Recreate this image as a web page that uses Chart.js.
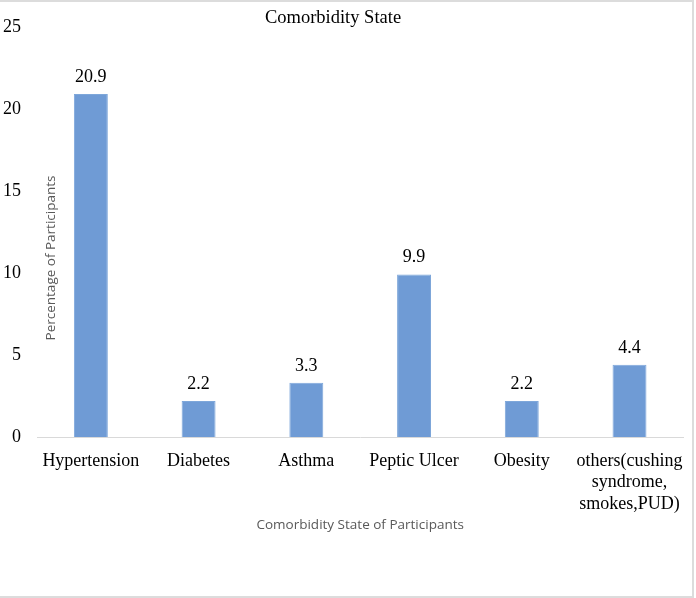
<!DOCTYPE html>
<html>
<head>
<meta charset="utf-8">
<script src="https://cdn.jsdelivr.net/npm/chart.js@4"></script>
<style>
    body { margin: 0; background: #fff; }
    #wrap { position: relative; width: 696px; height: 598px; overflow: hidden; }
    #frame {
        position: absolute; left: -3px; top: 0; width: 697px; height: 598px;
        border: 2px solid #dcdcdc; box-sizing: border-box; pointer-events: none;
    }
</style>
</head>
<body>
<div id="wrap">
    <canvas id="chart" width="696" height="598"></canvas>
    <div id="frame"></div>
</div>
<script>
// data
const categories = [
    "Hypertension", "Diabetes", "Asthma", "Peptic Ulcer", "Obesity",
    ["others(cushing", "syndrome,", "smokes,PUD)"]
];
const percentages = [20.9, 2.2, 3.3, 9.9, 2.2, 4.4];
const yTicks = [0, 5, 10, 15, 20, 25];

const serif = "'Liberation Serif', 'Times New Roman', serif";
const sans = "'Open Sans', 'Noto Sans', sans-serif";

// titles + value labels drawn on the canvas
const textLayer = {
    id: "textLayer",
    afterDatasetsDraw(chart) {
        const ctx = chart.ctx;
        const area = chart.chartArea;
        ctx.save();

        // main title
        ctx.fillStyle = "#000";
        ctx.font = "18.5px " + serif;
        ctx.textAlign = "center";
        ctx.textBaseline = "middle";
        ctx.fillText("Comorbidity State", 333, 18);

        // value labels
        ctx.font = "18px " + serif;
        const meta = chart.getDatasetMeta(0);
        meta.data.forEach((bar, i) => {
            ctx.fillText(String(percentages[i]), bar.x, bar.y - 17);
        });

        // y axis title
        ctx.fillStyle = "#595959";
        ctx.font = "13.5px " + sans;
        ctx.translate(area.left + 14, 258);
        ctx.rotate(-Math.PI / 2);
        ctx.fillText("Percentage of Participants", 0, 0);

        ctx.restore();
    }
};

new Chart(document.getElementById("chart"), {
    type: "bar",
    data: {
        labels: categories,
        datasets: [{
            data: percentages,
            backgroundColor: "#6f9bd5",
            borderColor: "#7ea7da",
            borderWidth: 1,
            barPercentage: 1,
            categoryPercentage: 0.315
        }]
    },
    options: {
        responsive: false,
        animation: false,
        layout: { padding: { left: 0, right: 6, top: 25, bottom: 0 } },
        plugins: {
            legend: { display: false },
            tooltip: { enabled: false },
            title: { display: false }
        },
        scales: {
            x: {
                grid: { display: false, drawTicks: false },
                border: { display: true, color: "#d9d9d9", width: 1 },
                ticks: {
                    color: "#000",
                    padding: 13,
                    maxRotation: 0,
                    autoSkip: false,
                    font: { family: serif, size: 18, lineHeight: 1.2 }
                },
                title: {
                    display: true,
                    text: "Comorbidity State of Participants",
                    color: "#595959",
                    font: { family: sans, size: 13.5 },
                    padding: { top: 0, bottom: 65 }
                },
                afterFit(scale) { scale.height = 161; }
            },
            y: {
                min: 0,
                max: 25,
                grid: { display: false, drawTicks: false },
                border: { display: false },
                afterBuildTicks(scale) {
                    scale.ticks = yTicks.map(v => ({ value: v }));
                },
                ticks: {
                    color: "#000",
                    padding: 16,
                    font: { family: serif, size: 18 }
                },
                afterFit(scale) { scale.width = 37; }
            }
        }
    },
    plugins: [textLayer]
});
</script>
</body>
</html>
